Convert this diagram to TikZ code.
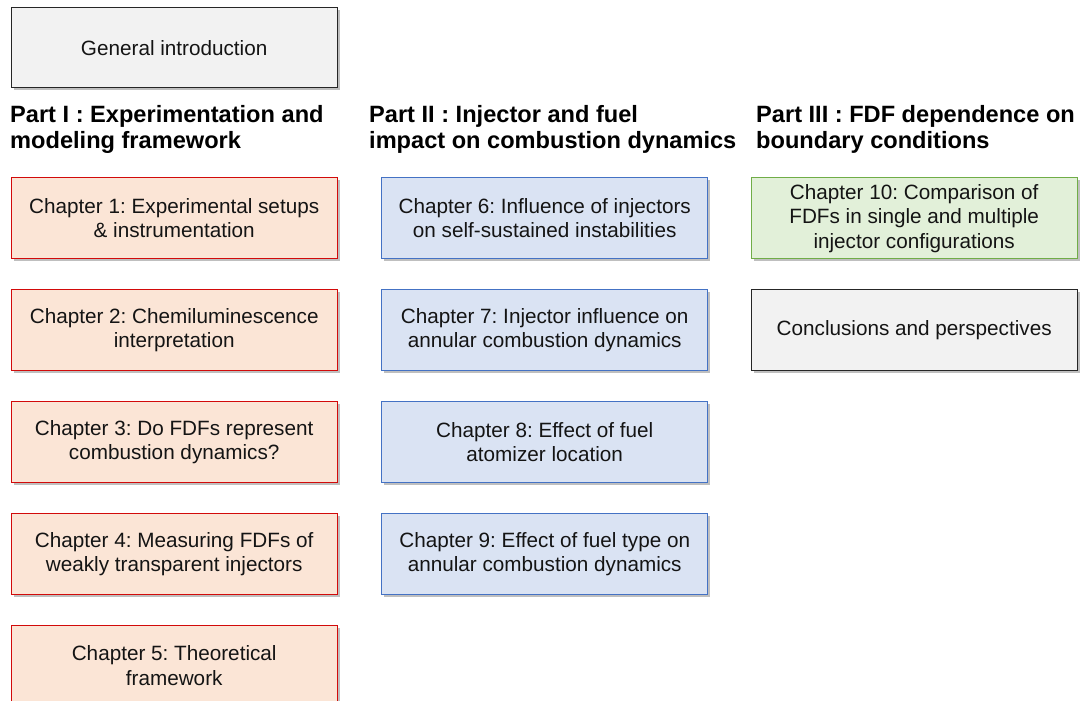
\documentclass[tikz,border=0pt]{standalone}
\usepackage{fontspec}
\setmainfont{Liberation Sans}
\usetikzlibrary{positioning}
\usetikzlibrary{shadows}
\frenchspacing

\definecolor{greyfill}{RGB}{242,242,242}
\definecolor{greyline}{RGB}{38,38,38}
\definecolor{redfill}{RGB}{251,229,214}
\definecolor{redline}{RGB}{210,10,10}
\definecolor{bluefill}{RGB}{218,227,243}
\definecolor{blueline}{RGB}{68,114,196}
\definecolor{greenfill}{RGB}{226,240,217}
\definecolor{greenline}{RGB}{112,173,71}
\definecolor{boxtext}{RGB}{20,20,20}

\tikzset{
  chapbox/.style={draw, line width=1.4pt, minimum width=326pt, minimum height=81pt,
    inner sep=0pt, align=center, text=boxtext, font=\fontsize{20.7}{24.5}\selectfont,
    drop shadow={shadow xshift=2.5pt, shadow yshift=-2.5pt, fill=black, opacity=0.25}},
  greybox/.style={chapbox, draw=greyline, fill=greyfill},
  partone/.style={chapbox, draw=redline, fill=redfill},
  parttwo/.style={chapbox, draw=blueline, fill=bluefill},
  partthree/.style={chapbox, draw=greenline, fill=greenfill},
  parthead/.style={anchor=north west, inner sep=0pt, align=left,
    font=\fontsize{23.6}{26.5}\selectfont\bfseries},
}

\begin{document}
\begin{tikzpicture}[node distance=29.5pt]
      \useasboundingbox (0pt,0pt) rectangle (1082pt,-701pt);

      \node[greybox, minimum height=80pt, anchor=north west] (intro) at (10.5pt,-7pt) {General introduction};

      \node[parthead] (headone) at (10pt,-105pt) {Part I : Experimentation and\\modeling framework};
      \node[parthead] (headtwo) at (369pt,-105pt) {Part II : Injector and fuel\\impact on combustion dynamics};
      \node[parthead] (headthree) at (756pt,-105pt) {Part III : FDF dependence on\\boundary conditions};

      % part I
      \node[partone, anchor=north west] (chone) at (10.5pt,-177pt) {Chapter 1: Experimental setups\\\& instrumentation};
      \node[partone, below=of chone] (chtwo) {Chapter 2: Chemiluminescence\\interpretation};
      \node[partone, below=of chtwo] (chthree) {Chapter 3: Do FDFs represent\\combustion dynamics?};
      \node[partone, below=of chthree] (chfour) {Chapter 4: Measuring FDFs of\\weakly transparent injectors};
      \node[partone, below=of chfour] (chfive) {Chapter 5: Theoretical\\framework};

      % part II
      \node[parttwo, anchor=north west] (chsix) at (381pt,-177pt) {Chapter 6: Influence of injectors\\on self-sustained instabilities};
      \node[parttwo, below=of chsix] (chseven) {Chapter 7: Injector influence on\\annular combustion dynamics};
      \node[parttwo, below=of chseven] (cheight) {Chapter 8: Effect of fuel\\atomizer location};
      \node[parttwo, below=of cheight] (chnine) {Chapter 9: Effect of fuel type on\\annular combustion dynamics};

      % part III
      \node[partthree, anchor=north west] (chten) at (750.5pt,-177pt) {Chapter 10: Comparison of\\FDFs in single and multiple\\injector configurations};
      \node[greybox, below=of chten] (concl) {Conclusions and perspectives};
    \end{tikzpicture}
\end{document}
